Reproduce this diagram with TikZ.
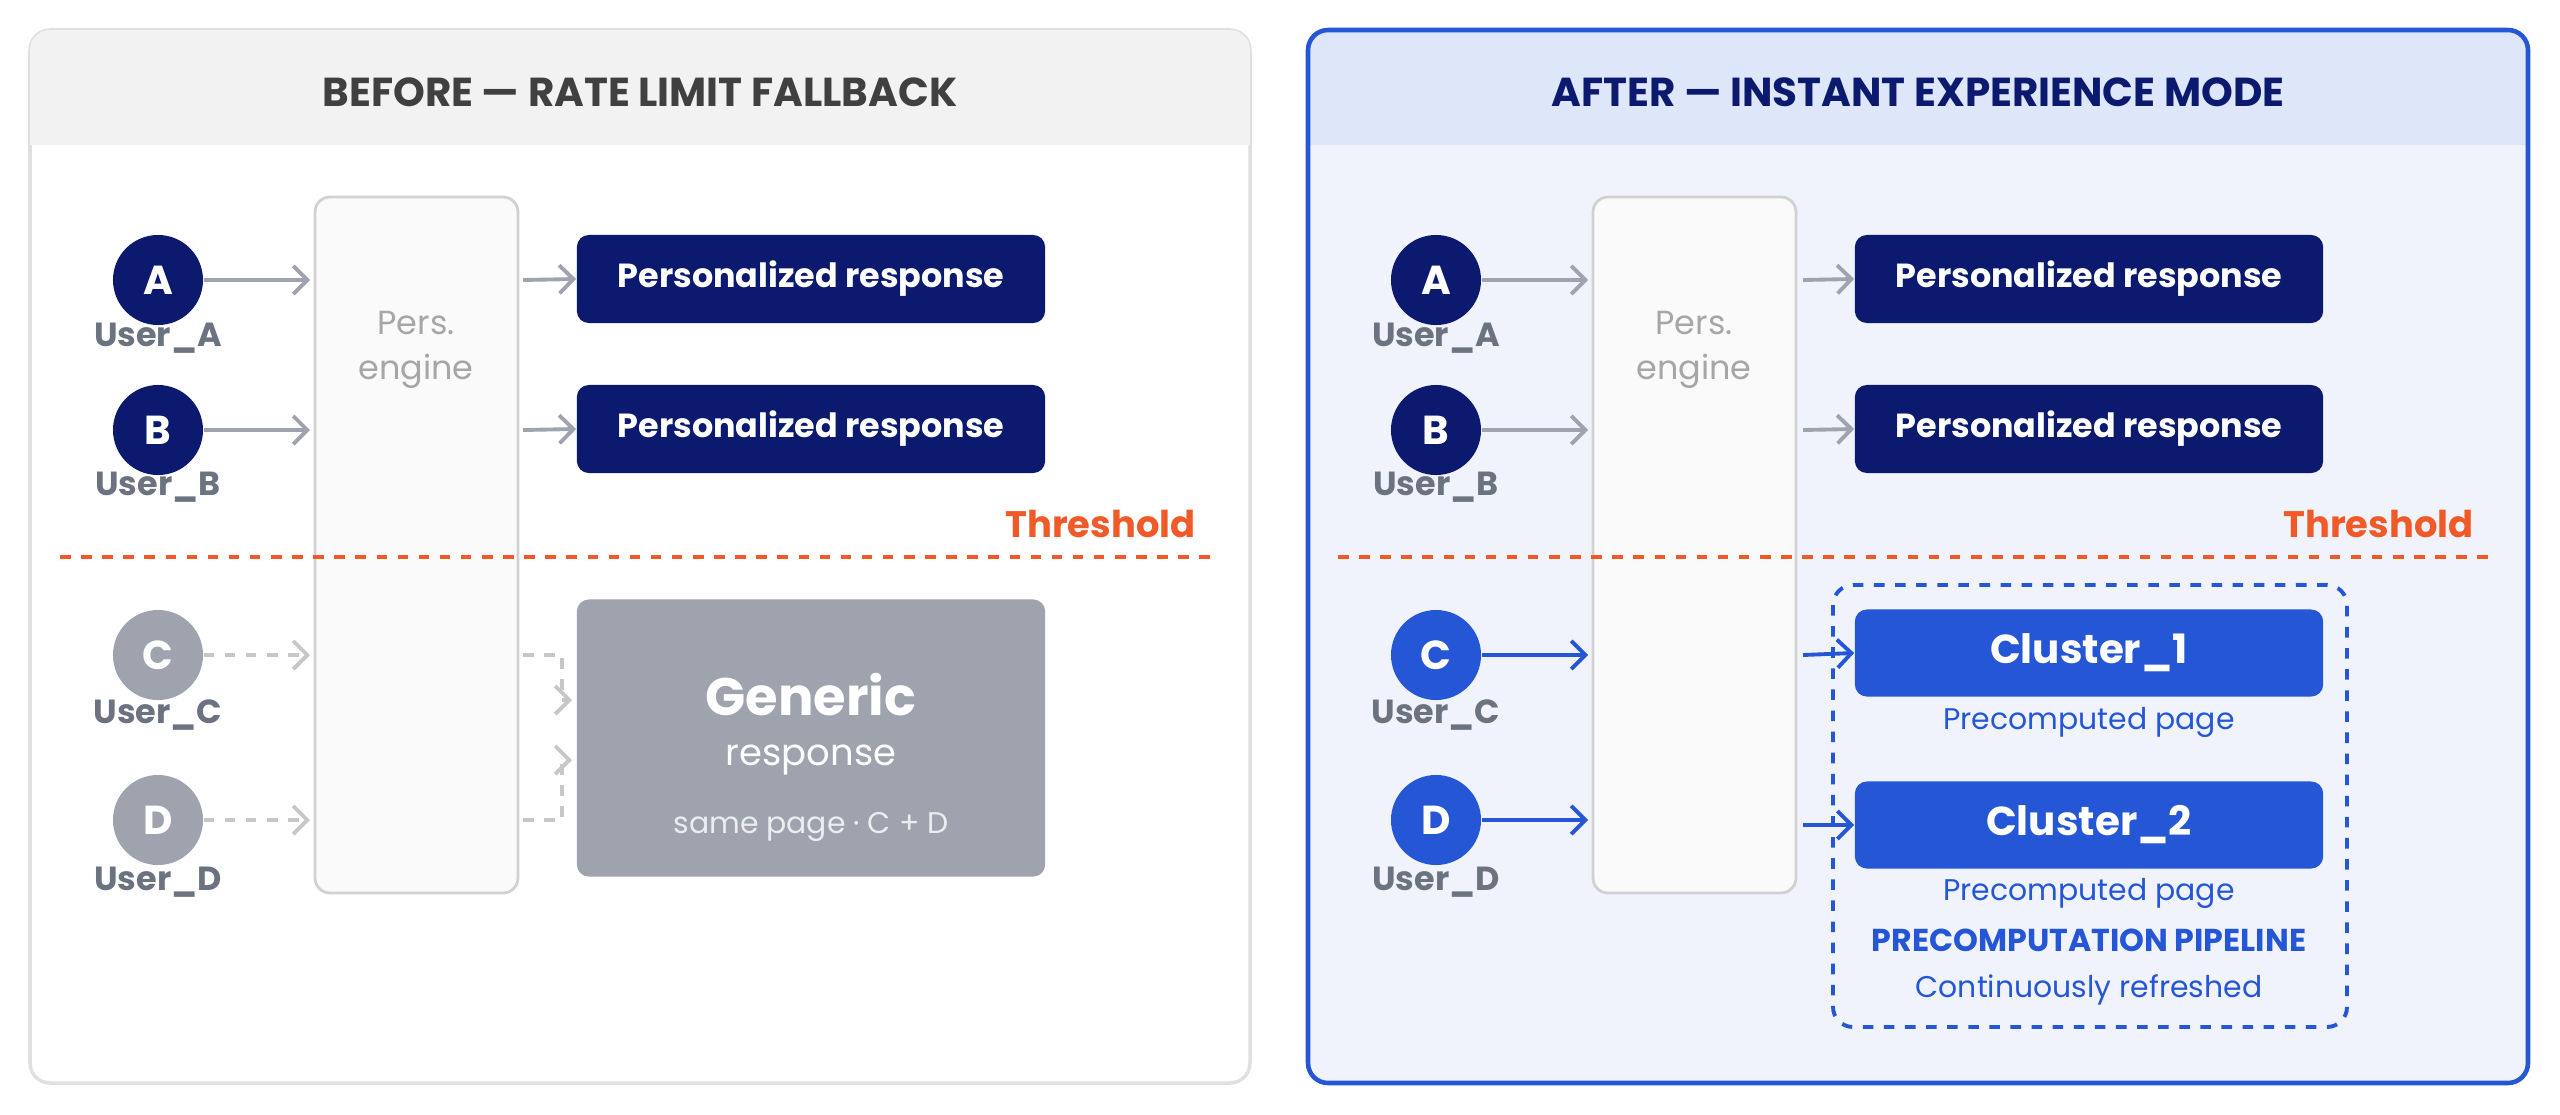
\documentclass[tikz,border=0pt]{standalone}
\usepackage{fontspec}
\setmainfont{Poppins}
\usetikzlibrary{positioning,arrows.meta}
\definecolor{navy}{HTML}{0B1A6E}
\definecolor{cblue}{HTML}{2456D6}
\definecolor{ugray}{HTML}{9EA3AD}
\definecolor{lgray}{HTML}{6B7280}
\definecolor{thr}{HTML}{F05A28}
\begin{document}
\begin{tikzpicture}[x=0.01cm,y=-0.01cm,
  user/.style={circle, fill=navy, minimum size=0.9cm, inner sep=0pt, text=white, font=\bfseries\fontsize{11.5}{11.5}\selectfont},
  ulabel/.style={text=lgray, font=\bfseries\fontsize{9.5}{9.5}\selectfont},
  engine/.style={draw=black!18, fill=black!2, rounded corners=0.15cm, line width=0.8pt},
  resp/.style={fill=navy, rounded corners=0.12cm, minimum width=4.68cm, minimum height=0.88cm, text=white, font=\bfseries\fontsize{9.5}{9.5}\selectfont},
  clus/.style={resp, fill=cblue, minimum height=0.87cm, font=\bfseries\fontsize{11.5}{11.5}\selectfont},
  arr/.style={-{Straight Barb[length=4pt]}, line width=1.1pt, draw=ugray},
  darr/.style={arr, draw=black!22, dashed},
  barr/.style={arr, draw=cblue},
  small/.style={font=\fontsize{8.5}{8.5}\selectfont}]
\useasboundingbox (0,0) rectangle (2560,1115);
% panels
\draw[black!12, line width=1pt, fill=white, rounded corners=0.2cm] (30,30) rectangle (1250,1083);
\begin{scope}
\clip[rounded corners=0.2cm] (30,30) rectangle (1250,1083);
\fill[black!5] (30,30) rectangle (1250,145);
\end{scope}
\node[font=\bfseries\fontsize{11.5}{11.5}\selectfont, text=black!75] at (640,92) {BEFORE — RATE LIMIT FALLBACK};
\fill[cblue!7, rounded corners=0.2cm] (1308,30) rectangle (2528,1083);
\begin{scope}
\clip[rounded corners=0.2cm] (1308,30) rectangle (2528,1083);
\fill[cblue!15] (1308,30) rectangle (2528,145);
\end{scope}
\draw[cblue, line width=1.3pt, rounded corners=0.2cm] (1308,30) rectangle (2528,1083);
\node[font=\bfseries\fontsize{11.5}{11.5}\selectfont, text=navy] at (1918,92) {AFTER — INSTANT EXPERIENCE MODE};
%% left side
\draw[engine] (315,197) rectangle (518,893);
\node[text=black!35, align=center, font=\fontsize{9.5}{13}\selectfont] at (416,350) {Pers.\\engine};
\node[user] (la) at (158,280) {A};
\node[user] (lb) at (158,430) {B};
\node[user, fill=ugray] (lc) at (158,655) {C};
\node[user, fill=ugray] (ld) at (158,820) {D};
\node[ulabel] at (158,338) {User\_A};
\node[ulabel] at (158,487) {User\_B};
\node[ulabel] at (158,715) {User\_C};
\node[ulabel] at (158,882) {User\_D};
\coordinate (lia) at (310,280); \coordinate (lib) at (310,430);
\coordinate (lic) at (310,655); \coordinate (lid) at (310,820);
\draw[arr] (la) -- (lia);
\draw[arr] (lb) -- (lib);
\draw[darr] (lc) -- (lic);
\draw[darr] (ld) -- (lid);
\node[resp] (lr1) at (811,279) {Personalized response};
\node[resp] (lr2) at (811,429) {Personalized response};
\coordinate (loa) at (523,280); \coordinate (lob) at (523,430);
\draw[arr] (loa) -- (lr1.west);
\draw[arr] (lob) -- (lr2.west);
\draw[dashed, thr, line width=1.3pt] (60,557) -- (1218,557);
\node[anchor=south east, text=thr, font=\bfseries\fontsize{10.5}{10.5}\selectfont] at (1208,550) {Threshold};
\node[fill=ugray, rounded corners=0.12cm, minimum width=4.68cm, minimum height=2.77cm] (gen) at (811,738) {};
\node[text=white, font=\bfseries\fontsize{15}{15}\selectfont] at (811,695) {Generic};
\node[text=white, font=\fontsize{10.5}{10.5}\selectfont] at (811,760) {response};
\node[text=white!80!ugray, small] at (811,827) {same page · C + D};
\coordinate (loc) at (523,655); \coordinate (lod) at (523,820);
\draw[darr] (loc) -| (562,700) -- (572,700);
\draw[darr] (lod) -| (562,760) -- (572,760);
%% right side
\draw[engine] (1593,197) rectangle (1796,893);
\node[text=black!35, align=center, font=\fontsize{9.5}{13}\selectfont] at (1694,350) {Pers.\\engine};
\node[user] (ra) at (1436,280) {A};
\node[user] (rb) at (1436,430) {B};
\node[user, fill=cblue] (rc) at (1436,655) {C};
\node[user, fill=cblue] (rd) at (1436,820) {D};
\node[ulabel] at (1436,338) {User\_A};
\node[ulabel] at (1436,487) {User\_B};
\node[ulabel] at (1436,715) {User\_C};
\node[ulabel] at (1436,882) {User\_D};
\coordinate (ria) at (1588,280); \coordinate (rib) at (1588,430);
\coordinate (ric) at (1588,655); \coordinate (rid) at (1588,820);
\draw[arr] (ra) -- (ria);
\draw[arr] (rb) -- (rib);
\draw[barr] (rc) -- (ric);
\draw[barr] (rd) -- (rid);
\node[resp] (rr1) at (2089,279) {Personalized response};
\node[resp] (rr2) at (2089,429) {Personalized response};
\coordinate (roa) at (1803,280); \coordinate (rob) at (1803,430);
\draw[arr] (roa) -- (rr1.west);
\draw[arr] (rob) -- (rr2.west);
\draw[dashed, thr, line width=1.3pt] (1338,557) -- (2496,557);
\node[anchor=south east, text=thr, font=\bfseries\fontsize{10.5}{10.5}\selectfont] at (2486,550) {Threshold};
\draw[dashed, cblue, line width=1.1pt, rounded corners=0.2cm] (1833,585) rectangle (2347,1027);
\node[clus] (c1) at (2089,653) {Cluster\_1};
\node[clus] (c2) at (2089,825) {Cluster\_2};
\node[text=cblue, small] at (2089,722) {Precomputed page};
\node[text=cblue, small] at (2089,893) {Precomputed page};
\node[text=cblue, font=\bfseries\fontsize{9}{9}\selectfont] at (2089,940) {PRECOMPUTATION PIPELINE};
\node[text=cblue, small] at (2089,990) {Continuously refreshed};
\coordinate (roc) at (1803,655); \coordinate (rod) at (1803,825);
\draw[barr] (roc) -- (c1.west);
\draw[barr] (rod) -- (c2.west);
\end{tikzpicture}
\end{document}
